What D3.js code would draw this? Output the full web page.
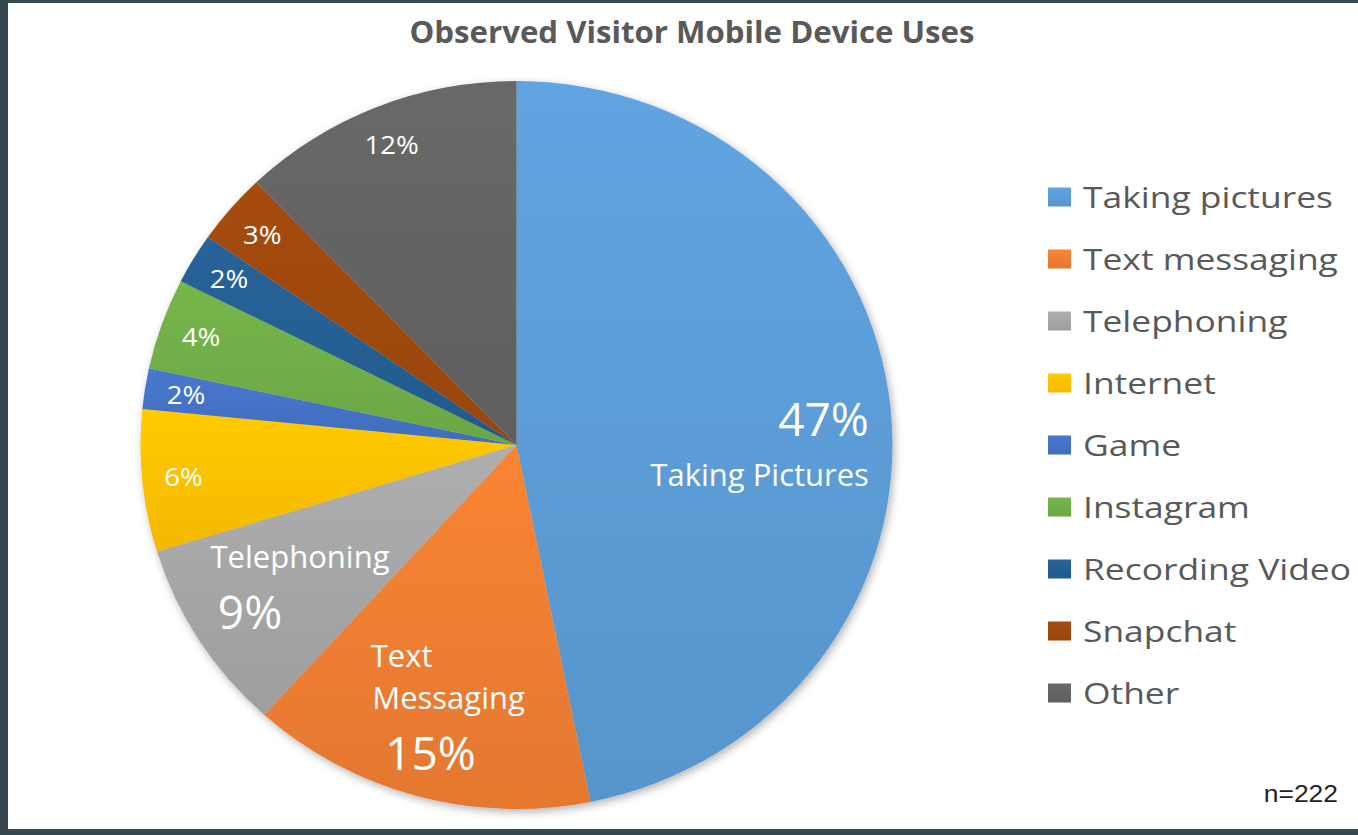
<!DOCTYPE html>
<html>
<head>
<meta charset="utf-8">
<script src="https://cdn.jsdelivr.net/npm/d3@7"></script>
<style>
  html, body { margin: 0; padding: 0; background: #36474f; }
  svg { display: block; }
</style>
</head>
<body>
<svg id="chart" width="1358" height="835"></svg>
<script>
// observed uses, counts out of n=222
const categories = ['Taking pictures', 'Text messaging', 'Telephoning', 'Internet', 'Game',
  'Instagram', 'Recording Video', 'Snapchat', 'Other'];
const counts = [104, 33, 19, 14, 4, 9, 5, 7, 27];
const colors = ['#5B9BD5', '#ED7D31', '#A5A5A5', '#FFC000', '#4472C4',
  '#70AD47', '#255E91', '#9E480E', '#636363'];
const total = 222;
const chartTitle = 'Observed Visitor Mobile Device Uses';

const width = 1358, height = 835;
const cx = 516.5, cy = 445, rx = 376, ry = 364;

const svg = d3.select('#chart');

// white plot card on the dark frame
svg.append('rect')
  .attr('x', 8).attr('y', 3)
  .attr('width', width - 8).attr('height', 826)
  .attr('fill', '#fff');

const defs = svg.append('defs');
const shadow = defs.append('filter').attr('id', 'shadow')
  .attr('x', '-10%').attr('y', '-10%').attr('width', '120%').attr('height', '120%');
shadow.append('feDropShadow')
  .attr('dx', 2).attr('dy', 3).attr('stdDeviation', 4)
  .attr('flood-color', '#000').attr('flood-opacity', 0.3);

colors.forEach((c, i) => {
  const g = defs.append('linearGradient').attr('id', 'grad' + i)
    .attr('x1', 0).attr('y1', 0).attr('x2', 0).attr('y2', 1);
  g.append('stop').attr('offset', '0%').attr('stop-color', d3.color(c).brighter(0.15));
  g.append('stop').attr('offset', '100%').attr('stop-color', d3.color(c).darker(0.12));
});

const pie = d3.pie().sort(null).value((d) => d)(counts);
const arc = d3.arc().innerRadius(0).outerRadius(ry);

const pieG = svg.append('g')
  .attr('transform', 'translate(' + cx + ',' + cy + ') scale(' + (rx / ry) + ',1)')
  .attr('filter', 'url(#shadow)');

pieG.selectAll('path.slice')
  .data(pie)
  .enter()
  .append('path')
  .attr('class', 'slice')
  .attr('d', arc)
  .attr('fill', (d, i) => 'url(#grad' + i + ')');

// point on the (slightly oval) pie at a given angle and radius fraction
function spot(angle, frac) {
  return [cx + Math.sin(angle) * frac * rx, cy - Math.cos(angle) * frac * ry];
}
const pct = (v) => Math.round(v / total * 100) + '%';

// multi-line labels for the big slices, offsets from the slice's mid point
const blocks = {
  0: { frac: 0.72, lines: [
    { t: (v) => pct(v), size: 46, dx: 83, dy: 17, anchor: 'end' },
    { t: () => 'Taking Pictures', size: 31, dx: 83, dy: 67, anchor: 'end' }] },
  1: { frac: 0.72, lines: [
    { t: () => 'Text', size: 31, dx: -43, dy: -31, anchor: 'middle' },
    { t: () => 'Messaging', size: 31, dx: 4, dy: 11, anchor: 'middle' },
    { t: (v) => pct(v), size: 46, dx: -14, dy: 72, anchor: 'middle' }] },
  2: { frac: 0.72, lines: [
    { t: () => 'Telephoning', size: 31, dx: 12, dy: -18, anchor: 'middle' },
    { t: (v) => pct(v), size: 46, dx: -38, dy: 43, anchor: 'middle' }] }
};

const labelG = svg.append('g')
  .attr('font-family', '"Open Sans", sans-serif')
  .attr('fill', '#fff');

pie.forEach((d, i) => {
  const mid = (d.startAngle + d.endAngle) / 2;
  if (blocks[i]) {
    const p = spot(mid, blocks[i].frac);
    blocks[i].lines.forEach((ln) => {
      labelG.append('text')
        .attr('x', p[0] + ln.dx)
        .attr('y', p[1] + ln.dy)
        .attr('text-anchor', ln.anchor)
        .attr('font-size', ln.size)
        .text(ln.t(d.value));
    });
  } else {
    const p = spot(mid, 0.89);
    labelG.append('text')
      .attr('transform', 'translate(' + p[0] + ',' + p[1] + ') scale(1.06,1)')
      .attr('text-anchor', 'middle')
      .attr('dy', '0.36em')
      .attr('font-size', 26)
      .text(pct(d.value));
  }
});

// title
svg.append('text')
  .attr('transform', 'translate(692,43) scale(1.04,1)')
  .attr('text-anchor', 'middle')
  .attr('font-family', '"Open Sans", sans-serif')
  .attr('font-weight', 700)
  .attr('font-size', 30)
  .attr('fill', '#595959')
  .text(chartTitle);

// legend
const legendY = d3.scalePoint().domain(categories).range([197, 693]);
const legend = svg.append('g').selectAll('g')
  .data(categories)
  .enter()
  .append('g')
  .attr('transform', (d) => 'translate(1048,' + legendY(d) + ')');

legend.append('rect')
  .attr('x', 0).attr('y', -9.5)
  .attr('width', 23).attr('height', 19)
  .attr('fill', (d, i) => 'url(#grad' + i + ')');

legend.append('text')
  .attr('transform', 'translate(35,10.5) scale(1.2,1)')
  .attr('font-family', '"Open Sans", sans-serif')
  .attr('font-size', 29.5)
  .attr('fill', '#595959')
  .text((d) => d);

// sample size note
svg.append('text')
  .attr('transform', 'translate(1338,802) scale(1.15,1)')
  .attr('text-anchor', 'end')
  .attr('font-family', '"Liberation Sans Narrow", "Liberation Sans", sans-serif')
  .attr('font-size', 23)
  .attr('fill', '#222')
  .text('n=' + total);
</script>
</body>
</html>
